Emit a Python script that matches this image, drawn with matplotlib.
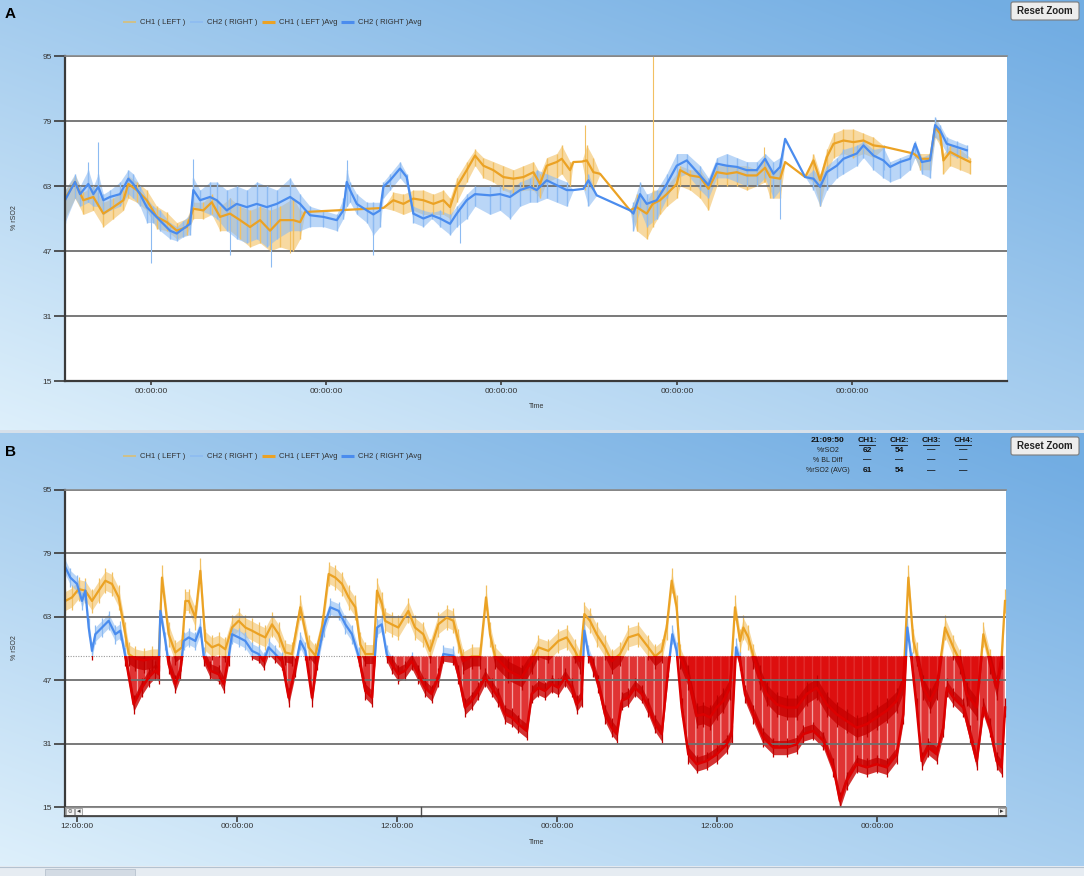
import numpy as np
import matplotlib
matplotlib.use("Agg")
import matplotlib.pyplot as plt
from matplotlib import font_manager
from matplotlib.patches import Rectangle, FancyBboxPatch

W, H = 1084, 876

# ---------------- panel A : hours from first midnight, % rSO2 ----------------
a_t1 = [-11.75, -10.38, -9.24, -7.87, -6.50, -5.13, -3.76, -3.08, -1.93, -0.56,
        0.81, 2.18, 3.55, 4.91, 5.82, 7.19, 8.34, 9.47, 10.84, 12.21,
        13.58, 14.95, 16.32, 17.69, 19.51, 20.43, 21.11, 31.83, 33.20, 34.57,
        35.94, 37.31, 38.68, 40.05, 40.96, 41.87, 43.24, 44.38, 45.52, 46.89,
        48.26, 49.63, 51.00, 52.37, 53.28, 54.19, 55.56, 56.25, 57.39, 57.84,
        58.98, 59.67, 60.58, 61.50, 65.60, 66.51, 67.88, 68.70, 69.71, 70.62,
        71.99, 72.45, 73.82, 75.19, 76.33, 77.47, 78.84, 80.21, 81.57, 82.94,
        84.08, 84.77, 86.14, 86.83, 89.57, 90.71, 91.62, 92.53, 93.45, 94.81,
        96.18, 97.55, 98.92, 100.51, 104.39, 105.30, 106.67, 107.36, 108.04, 108.50,
        109.41, 110.78, 112.14]
a_ch1 = [59.9, 64.0, 59.5, 60.3, 56.2, 57.8, 59.5, 63.5, 62.0, 59.5,
         55.4, 54.1, 52.0, 52.9, 57.4, 57.0, 59.0, 55.4, 56.2, 54.6,
         52.9, 54.6, 52.0, 54.6, 54.6, 54.1, 56.6, 57.6, 59.5, 58.6,
         59.9, 59.5, 58.6, 59.5, 57.8, 62.8, 66.9, 70.5, 68.0, 66.9,
         65.2, 64.8, 65.2, 66.4, 63.5, 68.0, 68.9, 69.7, 66.9, 68.9,
         69.0, 69.3, 66.4, 66.0, 57.0, 57.8, 56.2, 58.6, 59.5, 61.0,
         63.5, 66.9, 65.6, 65.2, 62.3, 66.4, 66.0, 66.4, 65.6, 65.6,
         67.5, 65.2, 64.8, 68.9, 65.2, 69.3, 64.4, 70.1, 73.4, 74.2,
         73.8, 74.2, 73.0, 72.6, 71.0, 69.7, 69.7, 77.5, 75.9, 69.3,
         71.4, 70.1, 68.9]
a_ch1_lo = [55, 60, 56, 57, 53, 55, 57, 60, 59, 57,
            52.5, 52, 50, 51, 55, 55, 56, 52, 52, 50,
            48, 49, 47, 48, 47, 50, 56.6, 57.6, 57, 56,
            57, 56, 56, 56, 55, 59, 64, 68, 65, 64,
            62, 61, 62, 62, 60, 64, 65, 66, 63, 68.9,
            69, 63, 62, 66, 57, 52, 50, 53, 56, 58,
            60, 63, 62, 60, 57, 63, 63, 63, 62, 63,
            64, 60, 60, 68.9, 65.2, 64, 58, 66, 70, 71,
            70, 71, 70, 72.6, 71, 67, 67, 75, 73, 66,
            68, 67, 66]
a_ch1_hi = [62, 65.5, 61.5, 63, 59, 60, 62, 65.5, 64, 62,
            58, 56.5, 54, 55, 59, 59, 61, 58, 60, 58,
            57, 58, 57, 58, 60, 57, 56.6, 57.6, 61.5, 61,
            62, 62, 61, 62, 60, 65, 69, 72, 70, 69,
            68, 67, 68, 69, 66, 70, 71, 73, 69, 68.9,
            69, 73, 70, 66, 57, 61, 59, 62, 62, 63,
            66, 68, 67, 67, 64, 68, 68, 68, 68, 67,
            70, 67, 67, 68.9, 65.2, 71, 66, 72, 76, 77,
            77, 76, 75, 72.6, 71, 71, 71, 79, 77, 71,
            73, 72, 70]
a_spk1_t = [19.0, 59.5, 68.7, 84.0]
a_spk1_lo = [46.5, 62.0, 55.0, 64.0]
a_spk1_hi = [58.0, 77.9, 95.0, 72.5]

a_t2 = [-11.75, -10.38, -9.69, -8.56, -7.87, -7.19, -6.50, -5.59, -4.22, -3.08,
        -2.40, -1.48, -0.56, 0.34, 1.26, 2.63, 3.55, 4.45, 5.37, 5.82,
        6.74, 8.10, 9.02, 10.39, 11.76, 13.13, 14.50, 15.87, 17.24, 19.06,
        20.43, 21.79, 23.62, 25.45, 26.35, 26.82, 27.27, 28.19, 29.56, 30.46,
        31.38, 31.83, 32.75, 34.11, 35.02, 35.94, 37.31, 38.45, 39.59, 40.96,
        41.87, 43.24, 44.38, 46.44, 47.80, 49.17, 50.54, 51.91, 52.82, 54.19,
        55.56, 56.93, 57.84, 59.21, 59.90, 61.04, 65.60, 66.06, 66.97, 67.88,
        69.25, 70.62, 71.99, 73.36, 75.19, 76.33, 77.47, 78.84, 80.21, 81.57,
        82.94, 84.08, 85.23, 86.14, 86.83, 89.57, 90.71, 91.62, 92.53, 93.90,
        94.81, 96.64, 97.55, 98.92, 100.29, 101.20, 102.57, 103.94, 104.62, 105.53,
        106.67, 107.36, 108.04, 108.95, 110.32, 111.69]
a_ch2 = [59.5, 64.0, 61.0, 63.5, 61.0, 62.8, 59.5, 60.3, 61.0, 64.8,
         63.5, 61.0, 57.8, 56.2, 54.5, 52.0, 51.3, 52.5, 53.7, 62.0,
         59.5, 60.3, 59.5, 57.0, 58.6, 57.8, 58.6, 57.8, 58.6, 60.3,
         58.6, 55.8, 55.4, 54.6, 57.0, 64.0, 62.0, 58.6, 57.0, 56.0,
         57.0, 62.8, 64.4, 67.3, 65.2, 56.2, 55.0, 55.8, 55.0, 53.7,
         56.2, 59.5, 61.0, 60.7, 61.0, 60.3, 62.0, 62.8, 62.0, 64.4,
         63.2, 62.0, 62.0, 62.3, 64.4, 60.7, 57.0, 56.2, 61.0, 58.6,
         59.5, 63.5, 68.0, 69.3, 65.6, 63.2, 68.5, 68.0, 67.7, 66.9,
         66.9, 69.7, 66.0, 67.7, 74.6, 65.2, 64.8, 62.8, 66.4, 68.0,
         69.7, 71.0, 73.0, 70.5, 69.3, 67.7, 68.9, 69.7, 73.4, 68.9,
         69.3, 78.0, 76.7, 73.4, 72.6, 71.8]
a_ch2_lo = [54, 60, 58, 59, 58, 58, 56, 57, 58, 61,
            60, 58, 54, 54, 52, 50, 49.5, 50.5, 51, 58,
            57, 56, 55, 52, 50, 49, 50, 48, 50, 52,
            52, 53, 53, 52, 55, 58, 59, 56, 54, 51,
            53, 60, 62, 65, 63, 54, 53, 55, 53, 51,
            53, 55, 58, 56, 57, 55, 58, 59, 59, 60,
            59, 58, 62, 62.3, 58, 60.7, 57, 52, 57, 53,
            55, 60, 65, 66, 62, 60, 65, 65, 64, 63,
            63, 65, 60, 62, 74.6, 65.2, 62, 58, 62, 65,
            66, 68, 70, 67, 65, 64, 65, 67, 70, 66,
            65, 75, 74, 71, 70, 70]
a_ch2_hi = [62, 66, 63, 67, 63, 66, 61, 62, 64, 67,
            66, 63, 60, 58, 57, 54, 53, 54.5, 56, 65,
            62, 64, 64, 62, 63, 62, 64, 63, 62, 65,
            61, 58, 57, 56, 60, 67, 64, 61, 59, 59,
            59, 64, 66, 69, 66, 58, 57, 56.5, 57, 56,
            58, 61, 63, 63, 63, 62, 64, 65, 67, 66,
            65, 64, 62, 62.3, 66, 60.7, 57, 59, 64, 61,
            62, 66, 71, 71, 68, 65, 70, 71, 70, 69,
            69, 71, 69, 70, 74.6, 65.2, 67, 65, 68, 70,
            72, 73, 74, 72, 72.5, 69, 70, 71, 74, 70,
            71, 80, 78, 75, 74, 73]
a_spk2_t = [-8.56, -7.19, 0.0, 5.82, 10.8, 16.5, 26.82, 30.46, 42.3, 86.1, 100.3]
a_spk2_lo = [59, 58, 44, 58, 46, 43, 58, 46, 49, 55, 67]
a_spk2_hi = [69, 73.8, 58, 69.7, 60, 58, 69.5, 58, 57, 67, 73]
a_xticks = [0, 24, 48, 72, 96]
a_xlabels = ["00:00:00"] * 5

# ---------------- panel B : hours of the day, % rSO2 ----------------
b_t1 = [11.125, 11.625, 12.125, 12.625, 13.125, 13.625, 14.125, 14.625, 15.125, 15.625,
        15.875, 16.375, 17.0, 17.625, 18.125, 18.375, 18.875, 19.375, 19.875, 20.125,
        20.375, 20.875, 21.25, 21.625, 22.125, 22.625, 23.125, 23.625, 24.125, 24.625,
        25.125, 25.625, 26.125, 26.625, 27.125, 27.625, 28.125, 28.75, 29.375, 29.875,
        30.375, 30.875, 31.375, 31.875, 32.375, 32.875, 33.25, 33.625, 34.25, 34.5,
        34.875, 35.1, 35.6, 36.1, 36.85, 37.35, 37.975, 38.475, 39.1, 39.725,
        40.225, 40.6, 40.975, 41.6, 42.225, 42.675, 42.975, 43.35, 44.35, 45.35,
        46.1, 46.6, 47.35, 48.1, 48.725, 49.35, 49.725, 50.05, 50.475, 50.975,
        51.6, 52.1, 52.725, 53.35, 54.1, 54.85, 55.35, 55.85, 56.225, 56.6,
        56.975, 57.225, 57.85, 58.475, 58.975, 59.475, 59.975, 60.475, 60.975, 61.35,
        61.725, 61.975, 62.35, 62.725, 63.225, 63.725, 64.475, 65.225, 65.975, 66.725,
        67.475, 68.225, 68.975, 69.725, 70.475, 71.225, 71.975, 72.725, 73.475, 73.975,
        74.35, 74.725, 74.975, 75.475, 75.975, 76.475, 77.1, 77.725, 78.225, 78.725,
        79.475, 79.975, 80.475, 80.975, 81.35, 81.6]
b_ch1 = [67.0, 67.9, 70.0, 69.6, 67.0, 69.6, 72.1, 71.3, 67.9, 58.6,
         53.6, 52.5, 52.0, 52.5, 52.5, 72.9, 58.6, 54.0, 55.3, 67.0,
         67.0, 62.8, 74.6, 56.9, 55.3, 56.0, 54.8, 60.3, 62.0, 60.3,
         59.5, 58.6, 57.8, 61.1, 58.6, 54.0, 53.6, 65.4, 55.3, 53.2,
         60.3, 73.8, 72.9, 71.3, 67.9, 65.4, 56.0, 53.6, 53.6, 69.6,
         66.2, 62.0, 61.1, 60.3, 64.5, 60.3, 58.6, 54.4, 61.1, 62.8,
         62.0, 56.9, 51.8, 53.0, 53.0, 67.9, 58.6, 53.0, 49.4, 47.7,
         51.8, 55.3, 54.4, 56.9, 57.8, 54.4, 51.8, 63.7, 62.0, 58.6,
         55.3, 51.8, 53.6, 57.8, 58.6, 55.3, 53.0, 54.4, 60.3, 72.1,
         65.4, 53.0, 47.7, 38.0, 38.4, 37.6, 40.1, 41.8, 45.1, 65.4,
         56.9, 60.3, 57.8, 53.0, 47.7, 43.5, 40.9, 40.1, 40.1, 43.5,
         45.1, 40.9, 38.4, 36.7, 35.0, 35.9, 37.6, 39.3, 41.8, 46.3,
         72.9, 56.9, 53.6, 45.1, 41.8, 45.1, 60.3, 55.3, 51.8, 43.5,
         40.1, 58.6, 51.8, 45.1, 53.0, 67.0]
b_t2 = [11.125, 11.5, 12.0, 12.375, 12.625, 12.875, 13.125, 13.375, 13.875, 14.375,
        14.875, 15.25, 15.625, 16.25, 16.875, 17.375, 17.875, 18.125, 18.25, 18.625,
        18.875, 19.375, 19.75, 20.0, 20.375, 20.875, 21.25, 21.5, 22.0, 22.625,
        23.0, 23.375, 23.625, 24.125, 24.625, 25.125, 25.625, 26.0, 26.375, 26.875,
        27.375, 27.875, 28.375, 28.75, 29.125, 29.625, 30.0, 30.5, 31.0, 31.625,
        32.125, 32.625, 33.125, 33.625, 34.125, 34.5, 34.85, 35.225, 35.6, 36.1,
        36.6, 37.1, 37.6, 38.1, 38.6, 39.1, 39.475, 40.225, 40.6, 41.1,
        41.6, 42.1, 42.6, 43.1, 43.6, 44.1, 44.6, 45.1, 45.725, 46.1,
        46.6, 47.1, 47.6, 48.1, 48.6, 49.1, 49.475, 49.85, 50.05, 50.35,
        50.725, 51.1, 51.6, 52.1, 52.475, 52.85, 53.35, 53.85, 54.35, 54.85,
        55.35, 55.85, 56.35, 56.65, 56.975, 57.35, 57.85, 58.475, 59.225, 59.975,
        60.725, 61.1, 61.425, 61.725, 62.1, 62.725, 63.475, 64.225, 65.225, 65.975,
        66.475, 67.225, 67.975, 68.725, 69.225, 69.725, 70.475, 71.225, 71.975, 72.725,
        73.475, 73.975, 74.275, 74.6, 74.975, 75.35, 75.85, 76.475, 76.975, 77.225,
        77.725, 78.475, 78.975, 79.475, 79.975, 80.475, 80.975, 81.35, 81.6]
b_ch2 = [75.5, 72.9, 71.3, 67.0, 69.6, 60.3, 54.4, 58.6, 60.3, 62.0,
         58.6, 59.5, 53.0, 40.9, 45.1, 47.7, 49.4, 48.5, 64.5, 56.9,
         51.0, 46.0, 49.4, 56.9, 57.8, 56.9, 60.3, 53.0, 49.4, 48.5,
         46.0, 53.0, 58.6, 57.8, 56.9, 54.4, 53.6, 51.8, 55.3, 53.6,
         51.8, 42.6, 50.2, 56.9, 54.4, 42.6, 51.8, 60.3, 65.4, 64.5,
         61.1, 58.6, 53.0, 44.3, 42.6, 60.3, 61.1, 53.6, 51.0, 48.5,
         49.4, 51.8, 48.5, 45.1, 43.5, 47.7, 53.6, 53.2, 48.5, 40.1,
         41.8, 44.3, 47.7, 45.1, 42.6, 38.4, 37.6, 35.9, 34.2, 43.5,
         45.1, 44.3, 46.0, 45.1, 47.7, 45.1, 40.9, 42.6, 59.5, 53.6,
         50.2, 46.0, 38.4, 35.0, 33.4, 41.8, 42.6, 45.1, 43.5, 40.1,
         35.9, 33.4, 50.2, 58.6, 54.4, 40.1, 28.3, 25.8, 26.6, 28.3,
         30.8, 33.4, 55.3, 51.8, 43.5, 38.4, 32.5, 30.0, 30.0, 30.8,
         33.4, 34.2, 31.7, 25.0, 16.5, 21.6, 25.8, 25.0, 25.8, 25.0,
         28.3, 38.4, 60.3, 51.8, 40.1, 26.6, 30.0, 28.3, 35.0, 45.1,
         42.6, 40.1, 33.4, 26.6, 40.1, 35.0, 26.6, 25.0, 40.1]
b_threshold = 53.0
b_xticks = [12, 24, 36, 48, 60, 72]
b_xlabels = ["12:00:00", "00:00:00", "12:00:00", "00:00:00", "12:00:00", "00:00:00"]

y_ticks = [15, 31, 47, 63, 79, 95]
legend_labels = ["CH1 ( LEFT )", "CH2 ( RIGHT )", "CH1 ( LEFT )Avg", "CH2 ( RIGHT )Avg"]
table_cols = ["CH1:", "CH2:", "CH3:", "CH4:"]
table_rows = ["%rSO2", "% BL Diff", "%rSO2 (AVG)"]
table_vals = [["62", "54", "\u2014", "\u2014"],
              ["\u2014", "\u2014", "\u2014", "\u2014"],
              ["61", "54", "\u2014", "\u2014"]]
table_time = "21:09:50"

C1_RAW, C2_RAW = "#F2C062", "#8DBBF2"
C1_AVG, C2_AVG = "#EBA224", "#4A8CEE"
C1_LEG = "#D8BF78"
RED = "#DC0000"

names = {f.name for f in font_manager.fontManager.ttflist}
if "Liberation Sans Narrow" in names:
    plt.rcParams["font.family"] = ["Liberation Sans Narrow", "Liberation Sans", "DejaVu Sans"]
    FS = 7
else:
    plt.rcParams["font.family"] = ["Liberation Sans", "DejaVu Sans"]
    FS = 6
plt.rcParams["hatch.linewidth"] = 0.9

fig = plt.figure(figsize=(W / 100, H / 100), dpi=100)

# window background gradient
yy, xx = np.mgrid[0:H, 0:W]
xn = xx / W
yn = np.where(yy < 431, yy / 431.0, (yy - 433) / 433.0)
s = np.clip(0.5 * (1 - xn) + 0.55 * yn - 0.05, 0, 1)
dark = np.array([0.45, 0.68, 0.89])
light = np.array([0.87, 0.94, 0.985])
img = dark + (light - dark) * s[..., None]
img[430:433] = [0.84, 0.88, 0.92]
bg = fig.add_axes([0, 0, 1, 1])
bg.imshow(img, extent=(0, W, H, 0), aspect="auto", interpolation="bilinear")
bg.set_xlim(0, W)
bg.set_ylim(H, 0)
bg.axis("off")
bg.set_zorder(-5)


def px_axes(x0, y0, x1, y1):
    return fig.add_axes([x0 / W, 1 - y1 / H, (x1 - x0) / W, (y1 - y0) / H])


def style_axes(ax, ylo):
    ax.set_facecolor("white")
    ax.set_ylim(ylo, 95)
    ax.set_yticks(y_ticks)
    ax.set_axisbelow("line")
    ax.yaxis.grid(True, color="#6e6e6e", lw=1.3)
    for side in ("left", "bottom"):
        ax.spines[side].set_color("#3a3a3a")
        ax.spines[side].set_linewidth(1.6)
    ax.spines["top"].set_color("#8a8a8a")
    ax.spines["top"].set_linewidth(1.2)
    ax.spines["right"].set_visible(False)
    ax.tick_params(axis="y", length=7.9, width=1.2, color="#3a3a3a", pad=1.5,
                   labelsize=FS, labelcolor="#333333")


# ---------------- panel A ----------------
axA = px_axes(65, 56, 1007, 381)
style_axes(axA, 15)
axA.set_xlim(-11.75, 117.2)
axA.set_xticks(a_xticks, a_xlabels)
axA.tick_params(axis="x", length=2.9, width=1.2, color="#3a3a3a", pad=2,
                labelsize=FS, labelcolor="#333333")
axA.fill_between(a_t1, a_ch1_lo, a_ch1_hi, color=C1_RAW, alpha=0.6, lw=0)
axA.vlines(a_t1, a_ch1_lo, a_ch1_hi, color=C1_RAW, lw=1.0)
axA.vlines(a_spk1_t, a_spk1_lo, a_spk1_hi, color=C1_RAW, lw=0.8)
axA.fill_between(a_t2, a_ch2_lo, a_ch2_hi, color=C2_RAW, alpha=0.6, lw=0)
axA.vlines(a_t2, a_ch2_lo, a_ch2_hi, color=C2_RAW, lw=1.0)
axA.vlines(a_spk2_t, a_spk2_lo, a_spk2_hi, color=C2_RAW, lw=0.8)
axA.plot(a_t1, a_ch1, color=C1_AVG, lw=1.6, zorder=2)
axA.plot(a_t2, a_ch2, color=C2_AVG, lw=1.6, zorder=2.1)

# ---------------- panel B ----------------
axB = px_axes(65, 490, 1006, 816)
style_axes(axB, 15 - 9 / 3.9625)
axB.set_xlim(11.1, 81.675)
axB.set_xticks(b_xticks, b_xlabels)
axB.tick_params(axis="x", length=4.3, width=1.2, color="#3a3a3a", pad=1,
                labelsize=FS, labelcolor="#333333")

upper = Rectangle((0, b_threshold), 200, 100, transform=axB.transData)
lower = Rectangle((0, 0), 200, b_threshold, transform=axB.transData)
t1, v1 = np.array(b_t1), np.array(b_ch1)
t2, v2 = np.array(b_t2), np.array(b_ch2)

axB.axhline(b_threshold, color="#9a9a9a", lw=0.8, ls=(0, (1, 1.3)), zorder=0.9)
axB.fill_between(t2, b_threshold, v2, where=v2 < b_threshold, interpolate=True,
                 facecolor="#E03434", edgecolor="#F2A4A4", hatch="||", lw=0, zorder=1)
axB.fill_between(t1, b_threshold, v1, where=v1 < b_threshold, interpolate=True,
                 color=RED, alpha=0.7, lw=0, zorder=1)
for t, v, spread, craw, cavg, z in ((t1, v1, 2.4, C1_RAW, C1_AVG, 2.0),
                                     (t2, v2, 1.8, C2_RAW, C2_AVG, 2.1)):
    band = axB.fill_between(t, v - spread, v + spread, color=craw, alpha=0.6, lw=0, zorder=1.1)
    band.set_clip_path(upper)
    ticks = axB.vlines(t, v - spread * 1.3, v + spread * 1.3, color=craw, lw=0.9, zorder=1.1)
    ticks.set_clip_path(upper)
    line, = axB.plot(t, v, color=cavg, lw=1.6, zorder=z)
    line.set_clip_path(upper)
    rband = axB.fill_between(t, v - spread, v + spread, color="#C80000", alpha=0.8, lw=0, zorder=1.2)
    rband.set_clip_path(lower)
    rticks = axB.vlines(t, v - spread * 1.3, v + spread * 1.3, color="#C00000", lw=0.9, zorder=1.2)
    rticks.set_clip_path(lower)
    rline, = axB.plot(t, v, color=RED, lw=1.8, zorder=z)
    rline.set_clip_path(lower)

# ---------------- overlay: legends, labels, buttons ----------------
ov = fig.add_axes([0, 0, 1, 1])
ov.set_xlim(0, W)
ov.set_ylim(H, 0)
ov.axis("off")
ov.set_zorder(10)
ov.patch.set_alpha(0)

leg_colors = [C1_LEG, C2_RAW, C1_AVG, C2_AVG]
leg_widths = [1.2, 1.2, 2.2, 2.2]
leg_x = [123, 190, 262, 341]
for y0, tag, ylab, yt, ytime in ((22, "A", 218, 14, 406), (456, "B", 648, 452, 842)):
    for x0, c, lw, lab in zip(leg_x, leg_colors, leg_widths, legend_labels):
        ov.plot([x0, x0 + 13], [y0, y0], color=c, lw=lw, solid_capstyle="butt")
        ov.text(x0 + 17, y0, lab, fontsize=FS - 0.5, color="#303030", va="center", ha="left")
    ov.text(10, yt, tag, fontsize=11, fontweight="bold", family="Liberation Sans",
            ha="center", va="center", color="black")
    ov.text(15, ylab, "% rSO2", fontsize=FS - 1, rotation=90, ha="center", va="center", color="#333333")
    ov.text(537, ytime, "Time", fontsize=FS - 1, ha="center", va="center", color="#333333")

for by in (2, 437):
    ov.add_patch(FancyBboxPatch((1011, by), 68, 18, boxstyle="round,pad=0,rounding_size=2",
                                facecolor="#EDEDED", edgecolor="#7c7c7c", lw=0.8))
    ov.text(1045, by + 9, "Reset Zoom", fontsize=7, fontweight="bold", family="Liberation Sans",
            ha="center", va="center", color="#222222")

# info table in panel B
ov.text(828, 440, table_time, fontsize=FS, fontweight="bold", ha="center", va="center", color="#111111")
col_x = [867, 899, 931, 963]
for x0, head in zip(col_x, table_cols):
    ov.text(x0, 440, head, fontsize=FS, fontweight="bold", ha="center", va="center", color="#111111")
    ov.plot([x0 - 8, x0 + 8], [445, 445], color="#111111", lw=0.6)
for ry, lab, vals in zip((450, 460, 471), table_rows, table_vals):
    ov.text(828, ry, lab, fontsize=FS - 1, ha="center", va="center", color="#222222")
    for x0, val in zip(col_x, vals):
        ov.text(x0, ry, val, fontsize=FS, fontweight="bold", ha="center", va="center", color="#111111")

# scroll bar under panel B
ov.add_patch(Rectangle((65, 807), 941, 9, facecolor="white", edgecolor="#8c8c8c", lw=0.8))
ov.add_patch(Rectangle((66, 808), 8, 7, facecolor="#f2f2f2", edgecolor="#9a9a9a", lw=0.6))
ov.text(70, 811.5, "\u2296", fontsize=4, family="DejaVu Sans", ha="center", va="center", color="#555555")
ov.add_patch(Rectangle((75, 808), 7, 7, facecolor="#f2f2f2", edgecolor="#9a9a9a", lw=0.6))
ov.text(78.5, 811.5, "\u25c2", fontsize=5, family="DejaVu Sans", ha="center", va="center", color="#333333")
ov.plot([421, 421], [807, 816], color="#505050", lw=1)
ov.add_patch(Rectangle((998, 808), 7, 7, facecolor="#f2f2f2", edgecolor="#9a9a9a", lw=0.6))
ov.text(1001.5, 811.5, "\u25b8", fontsize=5, family="DejaVu Sans", ha="center", va="center", color="#333333")
ov.plot([65, 1006], [816, 816], color="#3a3a3a", lw=1.2)

# window bottom strip
ov.add_patch(Rectangle((0, 866), W, 10, facecolor="#E6ECF2", edgecolor="none"))
ov.plot([0, W], [866.5, 866.5], color="#B4C2D0", lw=0.8)
ov.add_patch(Rectangle((45, 869), 90, 7, facecolor="#D3DBE4", edgecolor="#B0BCC8", lw=0.5))

fig.savefig("out.png", dpi=100)
